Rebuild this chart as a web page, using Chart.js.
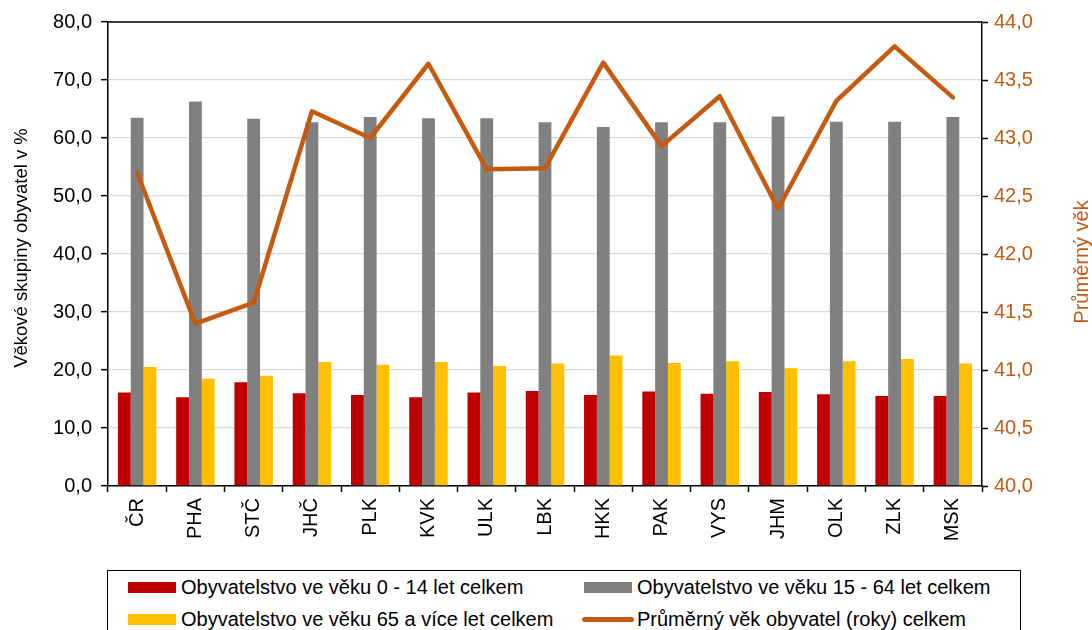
<!DOCTYPE html>
<html>
<head>
<meta charset="utf-8">
<script src="https://cdn.jsdelivr.net/npm/chart.js@4.4.1/dist/chart.umd.min.js"></script>
<style>
  html, body { margin: 0; padding: 0; background: #fff; }
  #wrap { position: relative; width: 1092px; height: 630px; overflow: hidden; font-family: "Liberation Sans", Arial, sans-serif; }
  #c { position: absolute; left: 0; top: 0; }
  #legend { position: absolute; left: 107px; top: 570px; width: 914px; height: 90px; border: 1.5px solid #000; box-sizing: border-box; background: #fff; }
  .item { position: absolute; font-size: 20px; color: #000; white-space: nowrap; line-height: 20px; }
  .sw { position: absolute; }
</style>
</head>
<body>
<div id="wrap">
  <canvas id="c" width="1092" height="630"></canvas>
  <div id="legend"></div>
</div>
<script>
const categories = ['ČR','PHA','STČ','JHČ','PLK','KVK','ULK','LBK','HKK','PAK','VYS','JHM','OLK','ZLK','MSK'];
const age0to14 = [16.1,15.3,17.9,16.0,15.7,15.3,16.1,16.4,15.7,16.3,15.9,16.2,15.8,15.5,15.5];
const age15to64 = [63.5,66.3,63.3,62.7,63.6,63.4,63.4,62.7,61.9,62.7,62.7,63.7,62.8,62.8,63.6];
const age65plus = [20.5,18.5,19.0,21.4,20.9,21.4,20.7,21.1,22.5,21.2,21.5,20.3,21.5,21.9,21.1];
const avgAge = [42.70,41.40,41.58,43.23,43.00,43.64,42.73,42.74,43.65,42.93,43.36,42.39,43.32,43.79,43.35];

const seriesNames = [
  'Obyvatelstvo ve věku 0 - 14 let celkem',
  'Obyvatelstvo ve věku 15 - 64 let celkem',
  'Obyvatelstvo ve věku 65 a více let celkem',
  'Průměrný věk obyvatel (roky) celkem'
];
const leftTitle = 'Věkové skupiny obyvatel v %';
const rightTitle = 'Průměrný věk';

const RED = '#C00000', GREY = '#808080', YEL = '#FFC000', ORANGE = '#C55A11';
const FONT = '"Liberation Sans", Arial, sans-serif';
const fmt = v => Number(v).toFixed(1).replace('.', ',');

// Plot area target
const PL = 108, PR = 982, PT = 22, PB = 486;

const titlesPlugin = {
  id: 'titles',
  afterDraw(chart) {
    const ctx = chart.ctx;
    const a = chart.chartArea;
    ctx.save();
    ctx.strokeStyle = '#000';
    ctx.lineWidth = 1.5;
    ctx.beginPath();
    ctx.moveTo(a.left, a.top);
    ctx.lineTo(a.right, a.top);
    ctx.stroke();
    ctx.font = '18.5px ' + FONT;
    ctx.fillStyle = '#000';
    ctx.textAlign = 'center';
    ctx.textBaseline = 'middle';
    ctx.translate(22, 248);
    ctx.rotate(-Math.PI / 2);
    ctx.fillText(leftTitle, 0, 0);
    ctx.restore();
    ctx.save();
    ctx.font = '20px ' + FONT;
    ctx.fillStyle = ORANGE;
    ctx.textAlign = 'center';
    ctx.textBaseline = 'middle';
    ctx.translate(1082, 262);
    ctx.rotate(-Math.PI / 2);
    ctx.fillText(rightTitle, 0, 0);
    ctx.restore();
  }
};

new Chart(document.getElementById('c'), {
  data: {
    labels: categories,
    datasets: [
      { type: 'line', label: seriesNames[3], data: avgAge, yAxisID: 'y1', borderColor: ORANGE, backgroundColor: ORANGE,
        borderWidth: 4.5, pointRadius: 0, tension: 0, borderJoinStyle: 'round', borderCapStyle: 'round', order: 0 },
      { type: 'bar', label: seriesNames[0], data: age0to14, yAxisID: 'y', backgroundColor: RED, order: 1 },
      { type: 'bar', label: seriesNames[1], data: age15to64, yAxisID: 'y', backgroundColor: GREY, order: 1 },
      { type: 'bar', label: seriesNames[2], data: age65plus, yAxisID: 'y', backgroundColor: YEL, order: 1 }
    ]
  },
  options: {
    responsive: false,
    devicePixelRatio: 1,
    animation: false,
    layout: { padding: { top: PT, left: 0, right: 0, bottom: 0 } },
    datasets: { bar: { categoryPercentage: 0.66, barPercentage: 1.0 } },
    plugins: { legend: { display: false }, tooltip: { enabled: false } },
    scales: {
      x: {
        type: 'category',
        offset: true,
        grid: { offset: true, drawOnChartArea: false, drawTicks: true, tickLength: 6, tickColor: '#000', tickWidth: 1.5 },
        border: { color: '#000', width: 1.5 },
        ticks: { autoSkip: false, minRotation: 90, maxRotation: 90, padding: 6, color: '#000', font: { family: FONT, size: 20 } },
        afterFit(s) { s.height = 630 - PB; }
      },
      y: {
        position: 'left', min: 0, max: 80,
        grid: { color: '#d9d9d9', lineWidth: 1.3, tickColor: '#000', tickLength: 7, tickWidth: 1.5 },
        border: { color: '#000', width: 1.5 },
        ticks: { stepSize: 10, padding: 9, color: '#000', font: { family: FONT, size: 20 }, callback: v => fmt(v) },
        afterFit(s) { s.width = PL; }
      },
      y1: {
        position: 'right', min: 40, max: 44,
        grid: { drawOnChartArea: false, tickColor: '#000', tickLength: 6, tickWidth: 1.5 },
        border: { color: '#000', width: 1.5 },
        ticks: { stepSize: 0.5, padding: 6, color: ORANGE, font: { family: FONT, size: 20 }, callback: v => fmt(v) },
        afterFit(s) { s.width = 1092 - PR; }
      }
    }
  },
  plugins: [titlesPlugin]
});

const legend = document.getElementById('legend');
const legendItems = [
  { name: seriesNames[0], color: RED, kind: 'box', x: 20, y: 11, tx: 73 },
  { name: seriesNames[1], color: GREY, kind: 'box', x: 476, y: 11, tx: 529 },
  { name: seriesNames[2], color: YEL, kind: 'box', x: 20, y: 43, tx: 73 },
  { name: seriesNames[3], color: ORANGE, kind: 'line', x: 474, y: 43, tx: 529 }
];
legendItems.forEach(it => {
  const sw = document.createElement('div');
  sw.className = 'sw';
  if (it.kind === 'box') {
    Object.assign(sw.style, { left: it.x + 'px', top: it.y + 'px', width: '48px', height: '11px', background: it.color });
  } else {
    Object.assign(sw.style, { left: it.x + 'px', top: (it.y + 3) + 'px', width: '52px', height: '5px', background: it.color, borderRadius: '3px' });
  }
  legend.appendChild(sw);
  const t = document.createElement('div');
  t.className = 'item';
  t.textContent = it.name;
  Object.assign(t.style, { left: it.tx + 'px', top: (it.y - 5) + 'px' });
  legend.appendChild(t);
});
</script>
</body>
</html>
